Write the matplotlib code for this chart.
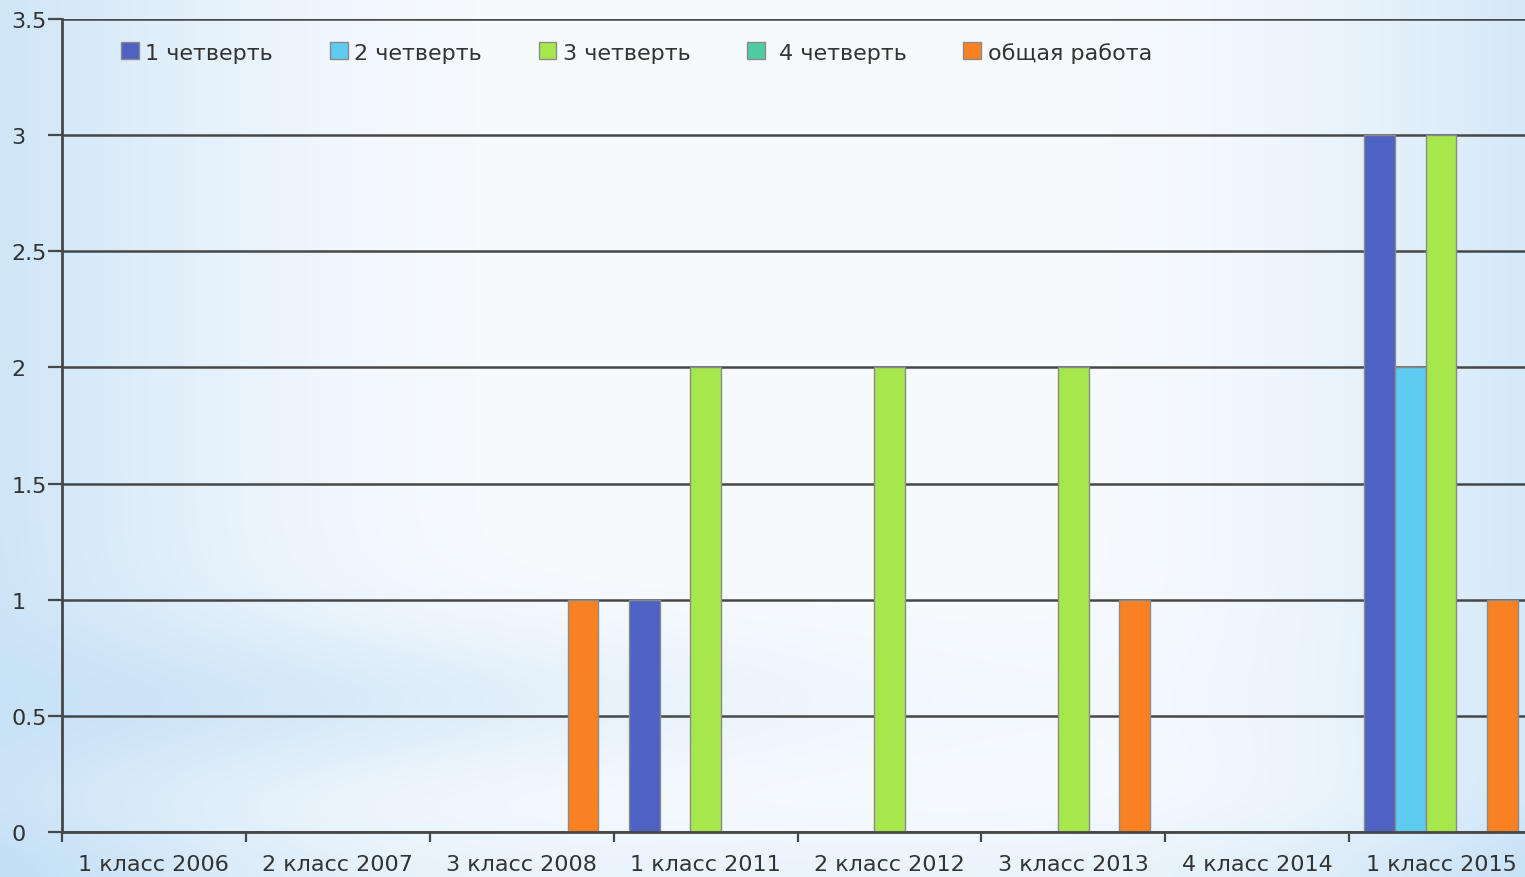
import numpy as np
import matplotlib
matplotlib.use("Agg")
import matplotlib.pyplot as plt

categories = ["1 класс 2006", "2 класс 2007", "3 класс 2008", "1 класс 2011",
              "2 класс 2012", "3 класс 2013", "4 класс 2014", "1 класс 2015"]
series_names = ["1 четверть", "2 четверть", "3 четверть", " 4 четверть", "общая работа"]
q1 = [0, 0, 0, 1, 0, 0, 0, 3]
q2 = [0, 0, 0, 0, 0, 0, 0, 2]
q3 = [0, 0, 0, 2, 2, 2, 0, 3]
q4 = [0, 0, 0, 0, 0, 0, 0, 0]
total = [0, 0, 1, 0, 0, 1, 0, 1]
yticks = [0, 0.5, 1, 1.5, 2, 2.5, 3, 3.5]
ytick_labels = ["0", "0.5", "1", "1.5", "2", "2.5", "3", "3.5"]

colors = ["#4E62C3", "#5FCBF1", "#A6E84B", "#4FCBA2", "#FA8121"]

plt.rcParams['font.family'] = ['DejaVu Sans']

W, H = 1525, 878
fig = plt.figure(figsize=(W / 100, H / 100), dpi=100)

# background gradient
bg = fig.add_axes([0, 0, 1, 1], zorder=-10)
xx, yy = np.meshgrid(np.linspace(0, 1, 400), np.linspace(0, 1, 240))
blue = np.array([196, 224, 246]) / 255.0
white = np.array([248, 251, 254]) / 255.0
horiz = np.exp(-((xx - 0.52) / 0.47) ** 4)
band = np.exp(-((yy - 0.80) / 0.09) ** 2) * np.exp(-((xx - 0.0) / 0.45) ** 2)
w = np.clip(horiz * (1 - 0.7 * band), 0, 1)
bottom_tint = np.exp(-((yy - 1.0) / 0.06) ** 2) * 0.25
w = np.clip(w - bottom_tint, 0, 1)
img = blue[None, None, :] * (1 - w[..., None]) + white[None, None, :] * w[..., None]
bg.imshow(img, aspect='auto', extent=[0, 1, 1, 0], interpolation='bilinear')
bg.set_axis_off()

left = 62 / W
right = 1533 / W
bottom = (H - 833) / H
top = (H - 20) / H
ax = fig.add_axes([left, bottom, right - left, top - bottom])
ax.set_facecolor('none')

x = np.arange(len(categories))
bw = 1 / 6
data = [q1, q2, q3, q4, total]
for i, (vals, c, name) in enumerate(zip(data, colors, series_names)):
    ax.bar(x + (i - 2) * bw, vals, width=bw, color=c, edgecolor='#8a8a8a',
           linewidth=1.0, label=name, zorder=3)

ax.set_xlim(-0.5, len(categories) - 0.5)
ax.set_ylim(0, 3.5)

ax.set_yticks(yticks)
ax.set_yticklabels(ytick_labels)
ax.yaxis.grid(True, color='#474747', linewidth=1.8, zorder=1)
ax.set_axisbelow(True)

ax.set_xticks(np.arange(-0.5, len(categories) + 0.5, 1.0))
ax.set_xticklabels([])
ax.set_xticks(x, minor=True)
ax.set_xticklabels(categories, minor=True)
ax.tick_params(axis='x', which='major', direction='out', length=7, width=1.6, color='#474747')
ax.tick_params(axis='x', which='minor', length=0, pad=16, labelsize=16, labelcolor='#333333')
ax.tick_params(axis='y', direction='out', length=10, width=1.6, color='#474747',
               labelsize=16, labelcolor='#333333', pad=26.5)
for t in ax.yaxis.get_major_ticks():
    t.label1.set_horizontalalignment('left')

for s in ['top', 'right']:
    ax.spines[s].set_visible(False)
for s in ['left', 'bottom']:
    ax.spines[s].set_color('#474747')
    ax.spines[s].set_linewidth(2.0)
    ax.spines[s].set_zorder(5)

leg = ax.legend(ncol=5, loc='upper left', bbox_to_anchor=(0.034, 0.983), frameon=False,
                fontsize=16, handlelength=0.8, handleheight=0.8, handletextpad=0.3,
                columnspacing=2.55, borderaxespad=0.0)
for t in leg.get_texts():
    t.set_color('#333333')
for p in leg.get_patches():
    p.set_edgecolor('#8a8a8a')

fig.savefig("out.png", dpi=100)
